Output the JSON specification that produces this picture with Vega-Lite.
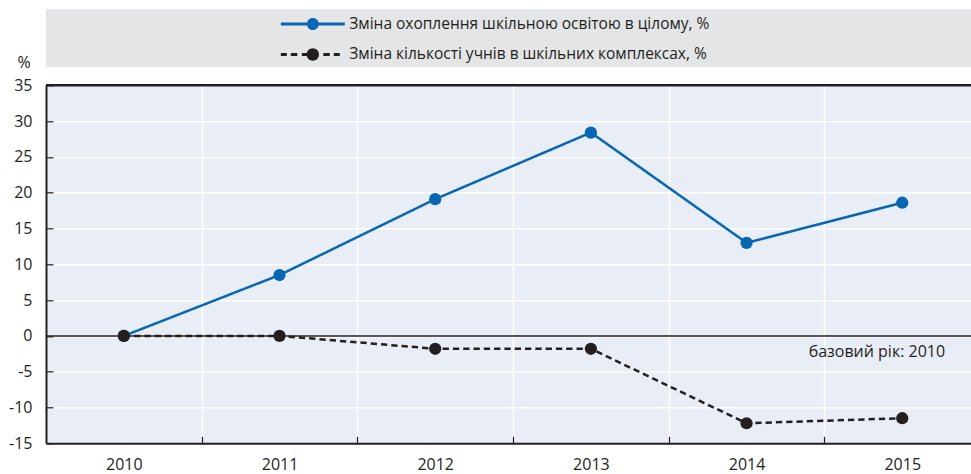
{
  "$schema": "https://vega.github.io/schema/vega-lite/v6.json",
  "autosize": {"type": "pad"},
  "padding": {"left": 8, "top": 8.3, "right": 0, "bottom": 0},
  "background": "#ffffff",
  "config": {"font": "Open Sans", "text": {"font": "Open Sans"}, "axis": {"labelOverlap": false}},
  "datasets": {
    "main": [
      {"year": 2010, "series": "Зміна охоплення шкільною освітою в цілому, %", "value": 0},
      {"year": 2011, "series": "Зміна охоплення шкільною освітою в цілому, %", "value": 8.5},
      {"year": 2012, "series": "Зміна охоплення шкільною освітою в цілому, %", "value": 19.1},
      {"year": 2013, "series": "Зміна охоплення шкільною освітою в цілому, %", "value": 28.4},
      {"year": 2014, "series": "Зміна охоплення шкільною освітою в цілому, %", "value": 13.0},
      {"year": 2015, "series": "Зміна охоплення шкільною освітою в цілому, %", "value": 18.6},
      {"year": 2010, "series": "Зміна кількості учнів в шкільних комплексах, %", "value": 0},
      {"year": 2011, "series": "Зміна кількості учнів в шкільних комплексах, %", "value": 0},
      {"year": 2012, "series": "Зміна кількості учнів в шкільних комплексах, %", "value": -1.8},
      {"year": 2013, "series": "Зміна кількості учнів в шкільних комплексах, %", "value": -1.8},
      {"year": 2014, "series": "Зміна кількості учнів в шкільних комплексах, %", "value": -12.2},
      {"year": 2015, "series": "Зміна кількості учнів в шкільних комплексах, %", "value": -11.5}
    ]
  },
  "vconcat": [
    {
      "width": 926,
      "height": 58,
      "view": {"fill": "#e4e5e6", "stroke": null},
      "data": {"values": [{"t": ""}]},
      "mark": {"type": "text"},
      "encoding": {"text": {"field": "t"}}
    },
    {
      "width": 926,
      "height": 358,
      "view": {"fill": "#e9edf6", "stroke": null},
      "data": {"name": "main"},
      "layer": [
        {
          "data": {"values": [{}]},
          "mark": {"type": "rule", "color": "#231f20", "strokeWidth": 1.5},
          "encoding": {"y": {"datum": 0, "type": "quantitative", "axis": null}}
        },
        {
          "data": {"values": [{}]},
          "mark": {"type": "rule", "color": "#231f20", "strokeWidth": 2.5},
          "encoding": {"y": {"datum": 35, "type": "quantitative", "axis": null}}
        },
        {
          "mark": {"type": "line", "strokeWidth": 2.5},
          "encoding": {
            "x": {
              "field": "year", "type": "quantitative",
              "scale": {"domain": [2009.5, 2015.448], "nice": false, "zero": false},
              "axis": {
                "orient": "bottom",
                "values": [2010, 2011, 2012, 2013, 2014, 2015],
                "format": "d", "ticks": false, "grid": false,
                "domain": true, "domainColor": "#231f20", "domainWidth": 2,
                "labelPadding": 13, "labelFontSize": 16, "labelColor": "#231f20",
                "labelFlush": false, "labelOverlap": false, "title": null
              }
            },
            "y": {
              "field": "value", "type": "quantitative",
              "scale": {"domain": [-15, 35], "nice": false, "zero": false},
              "axis": {
                "orient": "left",
                "values": [-15, -10, -5, 0, 5, 10, 15, 20, 25, 30, 35],
                "labelExpr": "'' + datum.value",
                "labelOverlap": false,
                "grid": true, "gridColor": "#ffffff", "gridWidth": 1.5, "gridOpacity": 1,
                "ticks": false,
                "domain": true, "domainColor": "#231f20", "domainWidth": 2,
                "labelPadding": 14, "labelFontSize": 16, "labelColor": "#231f20",
                "title": "%", "titleAngle": 0, "titleX": -29, "titleY": -18,
                "titleAlign": "left", "titleBaseline": "alphabetic",
                "titleFontSize": 16, "titleFontWeight": "normal", "titleColor": "#231f20"
              }
            },
            "color": {
              "field": "series", "type": "nominal",
              "scale": {
                "domain": ["Зміна охоплення шкільною освітою в цілому, %", "Зміна кількості учнів в шкільних комплексах, %"],
                "range": ["#0867b2", "#231f20"]
              },
              "legend": {
                "orient": "none", "legendX": 251.3, "legendY": -0.7,
                "direction": "vertical", "title": null,
                "symbolSize": 924, "labelOffset": 21, "labelFontSize": 15.5,
                "labelFont": "Open Sans", "labelColor": "#231f20",
                "rowPadding": 6.4, "padding": 0, "labelLimit": 0,
                "symbolStrokeWidth": 0,
                "encode": {
                  "symbols": {
                    "update": {
                      "shape": {"signal": "datum.index === 0 ? 'M-2.105,-0.099H2.105V0.099H-2.105Z M0.395,0A0.395,0.395 0 1,1 -0.395,0A0.395,0.395 0 1,1 0.395,0Z' : 'M-2.105,-0.099H-1.711V0.099H-2.105Z M-1.447,-0.099H-1.02V0.099H-1.447Z M-0.724,-0.099H-0.395V0.099H-0.724Z M0.408,0A0.408,0.408 0 1,1 -0.408,0A0.408,0.408 0 1,1 0.408,0Z M0.691,-0.099H1.118V0.099H0.691Z M1.382,-0.099H1.776V0.099H1.382Z'"},
                      "fill": {"signal": "datum.index === 0 ? '#0867b2' : '#231f20'"},
                      "stroke": {"value": "transparent"},
                      "strokeWidth": {"value": 0},
                      "opacity": {"value": 1},
                      "fillOpacity": {"value": 1}
                    }
                  }
                }
              }
            },
            "strokeDash": {
              "field": "series", "type": "nominal",
              "scale": {
                "domain": ["Зміна охоплення шкільною освітою в цілому, %", "Зміна кількості учнів в шкільних комплексах, %"],
                "range": [[1, 0], [6.3, 4]]
              },
              "legend": null
            }
          }
        },
        {
          "mark": {"type": "point", "filled": true, "opacity": 1, "size": 150},
          "encoding": {
            "x": {
              "field": "year", "type": "quantitative",
              "scale": {"domain": [2009.5, 2015.448], "nice": false, "zero": false},
              "axis": {
                "orient": "bottom",
                "values": [2010.5, 2011.5, 2012.5, 2013.5, 2014.5],
                "labels": false, "grid": true, "gridColor": "#ffffff", "gridWidth": 1.5, "gridOpacity": 1,
                "ticks": true, "tickSize": -7, "tickColor": "#231f20", "tickWidth": 1.2,
                "domain": false, "title": null
              }
            },
            "y": {
              "field": "value", "type": "quantitative",
              "axis": {
                "orient": "left", "offset": -7,
                "values": [-15, -10, -5, 0, 5, 10, 15, 20, 25, 30, 35],
                "labels": false, "grid": false, "domain": false,
                "ticks": true, "tickSize": 7, "tickColor": "#231f20", "tickWidth": 1.2,
                "title": null
              }
            },
            "color": {"field": "series", "type": "nominal"}
          }
        },
        {
          "data": {"values": [{}]},
          "mark": {"type": "text", "text": "базовий рік: 2010", "align": "right", "baseline": "middle", "fontSize": 16, "color": "#231f20"},
          "encoding": {
            "x": {"datum": 2015.275, "type": "quantitative", "axis": null},
            "y": {"datum": -2.3, "type": "quantitative", "axis": null}
          }
        }
      ],
      "resolve": {"axis": {"x": "independent", "y": "independent"}}
    }
  ],
  "spacing": 18,
  "bounds": "flush"
}
